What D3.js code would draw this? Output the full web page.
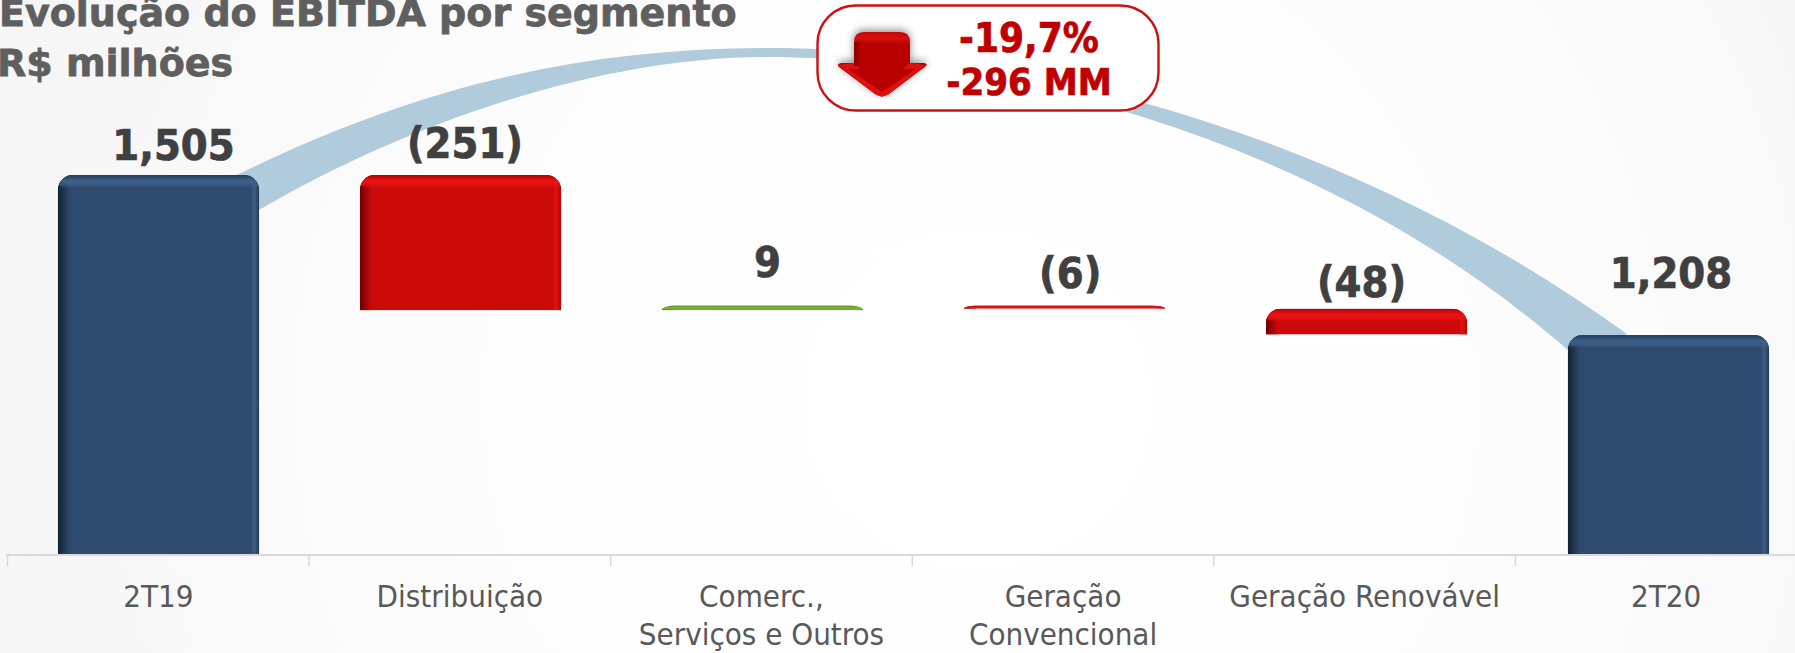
<!DOCTYPE html>
<html><head><meta charset="utf-8">
<script src="https://cdnjs.cloudflare.com/ajax/libs/d3/7.8.5/d3.min.js"></script>
<style>
html,body{margin:0;padding:0;background:#fff;overflow:hidden}
svg{display:block}
text{font-family:"DejaVu Sans Condensed","DejaVu Sans",sans-serif;font-stretch:condensed}
</style></head><body>
<svg id="c" width="1795" height="653"></svg>
<script>
const categories=["2T19","Distribuição","Comerc.,\nServiços e Outros","Geração\nConvencional","Geração Renovável","2T20"];
const deltas=[1505,-251,9,-6,-48,1208];
const kinds=["total","down","up","down","down","total"];
const valueLabels=["1,505","(251)","9","(6)","(48)","1,208"];
const titleLines=["Evolução do EBITDA por segmento","R$ milhões"];
const badgeLines=["-19,7%","-296 MM"];

const W=1795,H=653;
const svg=d3.select("#c");
const defs=svg.append("defs");

const bg=defs.append("radialGradient").attr("id","bg").attr("gradientUnits","userSpaceOnUse")
  .attr("cx",980).attr("cy",400).attr("r",1000);
bg.append("stop").attr("offset",0).attr("stop-color","#ffffff");
bg.append("stop").attr("offset",.4).attr("stop-color","#fefefe");
bg.append("stop").attr("offset",1).attr("stop-color","#f6f6f6");
svg.append("rect").attr("width",W).attr("height",H).attr("fill","url(#bg)");

// the bars sit on a marginally wider grid than the axis labels and ticks, as in the original
const xAxis=d3.scaleBand().domain(categories).range([7.5,1817]).paddingInner(1/3).paddingOuter(1/6);
const x=d3.scaleBand().domain(categories).range([7.5,1819.5]).paddingInner(1/3).paddingOuter(1/6);
const y=d3.scaleLinear().domain([802,1505]).range([554,175]);

let run=0;
const bars=deltas.map((d,i)=>{
  let lo,hi;
  if(kinds[i]==="total"){lo=802;hi=d;run=d;}
  else{const nxt=run+d;lo=Math.min(run,nxt);hi=Math.max(run,nxt);run=nxt;}
  return {cat:categories[i],kind:kinds[i],lo,hi,label:valueLabels[i]};
});

// ribbon arc from first total to last total
const rib=d3.path();
rib.moveTo(237,175);
rib.bezierCurveTo(423,83,590,48,767,48);
rib.bezierCurveTo(1000,48,1336,123,1627,334);
rib.lineTo(1570,352);
rib.bezierCurveTo(1320,132,990,57,767,57);
rib.bezierCurveTo(600,57,410,122,259,210);
rib.closePath();
svg.append("path").attr("d",rib.toString()).attr("fill","#b0cbdc");

// axis
const axisY=555;
svg.append("line").attr("x1",xAxis.range()[0]-2).attr("x2",W).attr("y1",axisY).attr("y2",axisY)
  .attr("stroke","#d9d9d9").attr("stroke-width",2);
categories.forEach(c=>{
  const tx=xAxis(c)-xAxis.bandwidth()/4;
  svg.append("line").attr("x1",tx).attr("x2",tx).attr("y1",axisY).attr("y2",566).attr("stroke","#d9d9d9").attr("stroke-width",1.5);
});
const axis=svg.append("g").attr("transform",`translate(0,${axisY})`)
  .call(d3.axisBottom(xAxis).tickSize(0).tickFormat(""));
axis.select(".domain").remove();
axis.selectAll(".tick").each(function(d){
  const t=d3.select(this).select("text");
  t.text(null).attr("y",0).attr("dy",null).attr("fill","#595959").style("font-size","31px");
  d.split("\n").forEach((ln,k)=>{
    t.append("tspan").attr("x",0).attr("y",52+k*38).text(ln);
  });
});

// bars
const pal={
 total:{base:"#2e4a6e",left:"#11212f",top:"#3f6087",right:"#3e5e85",edge:"#223a58"},
 down:{base:"#cc0a0a",left:"#6d0000",top:"#ea1414",right:"#e21212",edge:"#b80000"},
 up:{base:"#6f9e30",left:"#3a5f18",top:"#7fae3c",right:"#82ad44",edge:"#5d8a26"}
};
function grad(id,x1,y1,x2,y2,stops){
  const g=defs.append("linearGradient").attr("id",id).attr("x1",x1).attr("y1",y1).attr("x2",x2).attr("y2",y2);
  stops.forEach(s=>g.append("stop").attr("offset",s[0]).attr("stop-color",s[1]).attr("stop-opacity",s[2]));
}
Object.keys(pal).forEach(k=>{
  const p=pal[k];
  grad("L"+k,0,0,1,0,[[0,p.left,1],[1,p.base,1]]);
  grad("R"+k,0,0,1,0,[[0,p.base,0],[.5,p.right,1],[1,p.edge,1]]);
  grad("T"+k,0,0,0,1,[[0,p.edge,1],[.45,p.top,1],[.7,p.top,.8],[1,p.top,0]]);
});
bars.forEach((b,i)=>{
  const p=pal[b.kind];
  const X=x(b.cat),Wd=x.bandwidth(),T=y(b.hi),B=y(b.lo),Ht=B-T;
  const rx=15,ry=Math.min(15,Ht);
  const corner=`M${X},${B}L${X},${T+ry}A${rx},${ry} 0 0 1 ${X+rx},${T}L${X+Wd-rx},${T}A${rx},${ry} 0 0 1 ${X+Wd},${T+ry}L${X+Wd},${B}Z`;
  defs.append("clipPath").attr("id","cb"+i).append("path").attr("d",corner);
  const g=svg.append("g").attr("clip-path",`url(#cb${i})`);
  g.append("rect").attr("x",X).attr("y",T).attr("width",Wd).attr("height",Ht).attr("fill",p.base);
  g.append("rect").attr("x",X).attr("y",T).attr("width",12).attr("height",Ht).attr("fill",`url(#L${b.kind})`);
  g.append("rect").attr("x",X+Wd-10).attr("y",T).attr("width",10).attr("height",Ht).attr("fill",`url(#R${b.kind})`);
  g.append("rect").attr("x",X).attr("y",T).attr("width",Wd).attr("height",Math.min(13,Ht)).attr("fill",`url(#T${b.kind})`);
});

// value labels: hand placed above the bars in the original
const labelDx=[15,4.5,5,5.7,-5,2.5];
const labelGap=[15,17,28,17,12,47];
svg.append("g").selectAll("text").data(bars).join("text")
  .attr("x",(d,i)=>x(d.cat)+x.bandwidth()/2+labelDx[i])
  .attr("y",(d,i)=>y(d.hi)-labelGap[i])
  .attr("text-anchor","middle").attr("fill","#404040")
  .attr("stroke","#404040").attr("stroke-width",.7)
  .style("font-size","43px").style("font-weight","700")
  .text(d=>d.label);

// title (its first line is cropped by the top edge in the original)
svg.append("g").selectAll("text").data(titleLines).join("text")
  .attr("x",(d,i)=>i?-3:-1).attr("y",(d,i)=>26+i*50)
  .attr("fill","#5f5f5f").attr("stroke","#5f5f5f").attr("stroke-width",.8)
  .style("font-size","38px").style("font-weight","700")
  .style("font-stretch","normal").style("font-family","'DejaVu Sans',sans-serif")
  .text(d=>d);

// badge
svg.append("rect").attr("x",817.5).attr("y",5.5).attr("width",341).attr("height",105).attr("rx",38)
  .attr("fill","#ffffff").attr("stroke","#cc1111").attr("stroke-width",2.4);
svg.append("g").selectAll("text").data(badgeLines).join("text")
  .attr("x",1029).attr("y",(d,i)=>52+i*43)
  .attr("text-anchor","middle").attr("fill","#c00000").attr("stroke","#c00000").attr("stroke-width",.7)
  .style("font-size",(d,i)=>i?"38px":"40px").style("font-weight","700").text(d=>d);

// arrow
const sh=defs.append("filter").attr("id","sh").attr("x","-30%").attr("y","-30%").attr("width","160%").attr("height","160%");
sh.append("feGaussianBlur").attr("stdDeviation",4);
const arrow=d3.path();
arrow.moveTo(854,42);arrow.quadraticCurveTo(854,32,864,32);arrow.lineTo(900,32);arrow.quadraticCurveTo(910,32,910,42);
arrow.lineTo(910,63);arrow.lineTo(924,63);arrow.quadraticCurveTo(928,64,926,66);
arrow.lineTo(889,94);arrow.quadraticCurveTo(882,98,875,94);arrow.lineTo(839,67);arrow.quadraticCurveTo(836,64,841,63);
arrow.lineTo(854,63);arrow.closePath();
svg.append("path").attr("d",arrow.toString()).attr("fill","#000").attr("opacity",.45).attr("filter","url(#sh)").attr("transform","translate(0,-2)");
grad("arrS",0,0,0,1,[[0,"#c40606",1],[.1,"#d60e0e",1],[.2,"#b80000",1],[1,"#b80000",1]]);
svg.append("path").attr("d",arrow.toString()).attr("fill","url(#arrS)");
[[[838,65],[854,63],[860,69],[847,69]],[[926,65],[910,63],[903,69],[917,69]],
 [[838,65],[875,94],[882,97],[882,92],[848,69]],[[926,65],[889,94],[882,97],[882,92],[916,69]]]
 .forEach(p=>svg.append("path").attr("d",d3.line().curve(d3.curveLinearClosed)(p)).attr("fill","#dd1010"));
grad("arrL",0,0,1,0,[[0,"#8a0000",1],[1,"#b80000",1]]);
svg.append("rect").attr("x",854).attr("y",42).attr("width",8).attr("height",24).attr("fill","url(#arrL)");
</script>
</body></html>
